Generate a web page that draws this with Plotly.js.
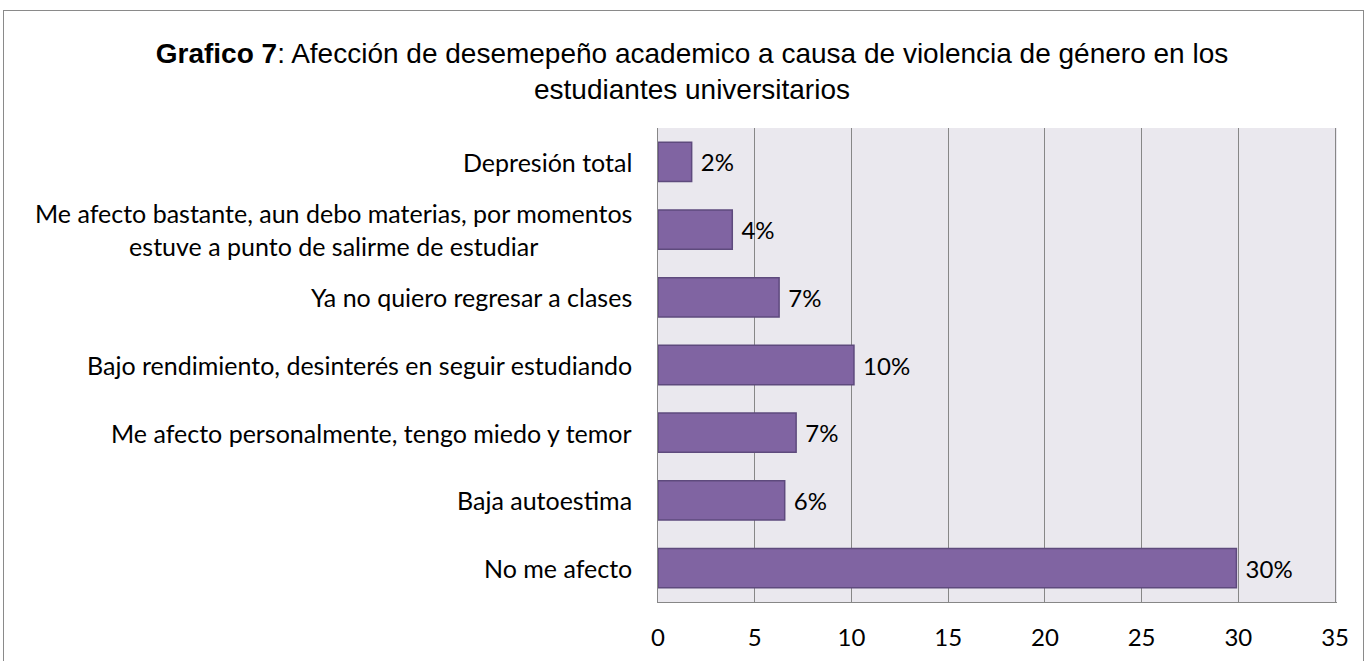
<!DOCTYPE html>
<html>
<head>
<meta charset="utf-8">
<script src="https://cdn.plot.ly/plotly-3.0.1.min.js"></script>
<style>
  html, body { margin: 0; padding: 0; background: #ffffff; overflow: hidden; }
  #chart { position: absolute; left: 0; top: 0; width: 1366px; height: 661px; }
  #frame { position: absolute; left: 3px; top: 10px; width: 1359px; height: 660px;
           border: 1px solid #8a8a8a; pointer-events: none; }
</style>
</head>
<body>
<div id="chart"></div>
<div id="frame"></div>
<script>
// Data (bottom to top, as in the source sheet)
const categories = [
  "No me afecto",
  "Baja autoestima",
  "Me afecto personalmente, tengo miedo y temor",
  "Bajo rendimiento, desinterés en seguir estudiando",
  "Ya no quiero regresar a clases",
  "Me afecto bastante, aun debo materias, por momentos<br>estuve a punto de salirme de estudiar",
  "Depresión total"
];
const values = [29.9, 6.55, 7.14, 10.13, 6.26, 3.84, 1.74];
const valueLabels = ["30%", "6%", "7%", "10%", "7%", "4%", "2%"];
const xTicks = [0, 5, 10, 15, 20, 25, 30, 35];

const labelFont = { family: "Lato, 'Open Sans', sans-serif", size: 24, color: "#000000" };
const catFont = { family: "Lato, 'Open Sans', sans-serif", size: 25, color: "#000000" };

const trace = {
  type: "bar",
  orientation: "h",
  y: categories,
  x: values,
  text: valueLabels.map(t => "\u00a0" + t),
  textposition: "outside",
  textfont: labelFont,
  cliponaxis: false,
  marker: { color: "#8064A2", line: { color: "#5E4A7D", width: 1.5 } },
  hoverinfo: "skip"
};

const annotations = categories.map(c => ({
  xref: "paper", yref: "y",
  x: 0, y: c,
  xanchor: "right", yanchor: "middle",
  xshift: -24,
  text: c,
  align: "center",
  showarrow: false,
  font: catFont
}));

const layout = {
  width: 1366, height: 661,
  paper_bgcolor: "rgba(0,0,0,0)",
  plot_bgcolor: "#EAE8EE",
  margin: { l: 658, r: 29, t: 128, b: 59 },
  showlegend: false,
  bargap: 0.42,
  title: {
    text: "<b>Grafico 7</b>: Afección de desemepeño academico a causa de violencia de género en los<br>estudiantes universitarios",
    font: { family: "'Liberation Sans', Arial, sans-serif", size: 28, color: "#000000" },
    x: 692 / 1366, xanchor: "center", xref: "container",
    y: 1 - 63 / 661, yanchor: "middle", yref: "container"
  },
  xaxis: {
    range: [0, 35.1],
    tickvals: xTicks,
    ticktext: xTicks.map(String),
    showgrid: true, gridcolor: "#878787", gridwidth: 1,
    showline: true, linecolor: "#878787", linewidth: 1, mirror: false,
    zeroline: false,
    ticks: "",
    tickfont: labelFont,
    ticklabelstandoff: 14
  },
  yaxis: {
    showticklabels: false,
    showgrid: false,
    showline: true, linecolor: "#878787", linewidth: 1,
    zeroline: false,
    ticks: ""
  },
  annotations: annotations
};

Plotly.newPlot("chart", [trace], layout, { displayModeBar: false, staticPlot: true });
</script>
</body>
</html>
